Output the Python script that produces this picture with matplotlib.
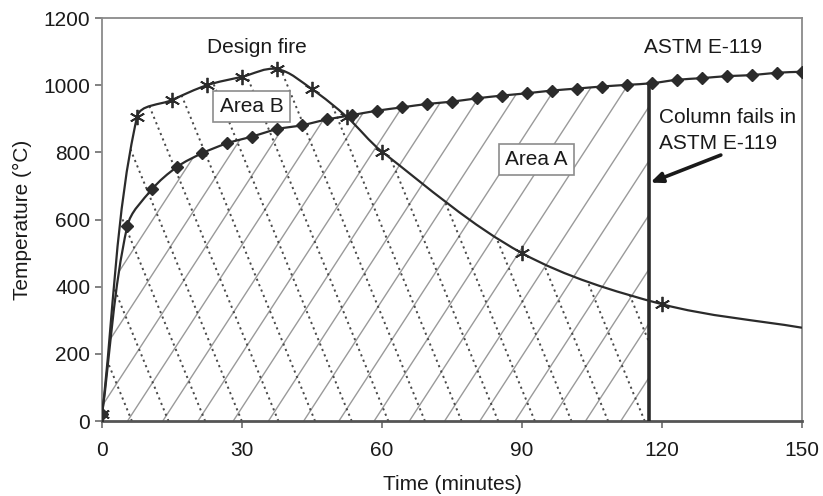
import numpy as np
import matplotlib
matplotlib.use("Agg")
import matplotlib.pyplot as plt
from matplotlib.path import Path
from matplotlib.patches import PathPatch
from matplotlib.collections import LineCollection
from matplotlib.transforms import Bbox, TransformedBbox

plt.rcParams['font.family'] = ['Liberation Sans', 'DejaVu Sans']

# ---- data ----
fire_t = [0, 7.5, 15, 22.5, 30, 37.5, 45, 52.5, 60, 90, 120, 150]
fire_T = [20, 906, 956, 1000, 1025, 1048, 988, 905, 802, 500, 348, 278]
fire_marked = [True] * 11 + [False]

astm_t = [0, 5.4, 10.7, 16.1, 21.4, 26.8, 32.1, 37.5, 42.9, 48.2, 53.6, 58.9,
          64.3, 69.6, 75.0, 80.4, 85.7, 91.1, 96.4, 101.8, 107.1, 112.5, 117.9,
          123.2, 128.6, 133.9, 139.3, 144.6, 150.0]
astm_T = [20, 580, 690, 757, 797, 827, 847, 869, 881, 898, 911, 924,
          934, 944, 951, 961, 969, 976, 984, 990, 996, 1001, 1006,
          1016, 1021, 1027, 1030, 1037, 1040]

fail_t = 117.3
fail_T = 1006

x_ticks = [0, 30, 60, 90, 120, 150]
y_ticks = [0, 200, 400, 600, 800, 1000, 1200]

DARK = '#2b2b2b'
TXT = '#1a1a1a'
# approximate screen scale (px per data unit) used only for smoothing shape
SX, SY = 700 / 150.0, 403 / 1200.0


def smooth_verts(xs, ys):
    """Smoothed line: cubic Bezier, tangent along neighbours, handle = chord/3."""
    P = np.column_stack([np.asarray(xs, float) * SX, np.asarray(ys, float) * SY])
    n = len(P)
    tang = []
    for i in range(n):
        a = P[i - 1] if i > 0 else P[i]
        b = P[i + 1] if i < n - 1 else P[i]
        d = b - a
        tang.append(d / np.hypot(*d))
    verts = [P[0]]
    codes = [Path.MOVETO]
    for i in range(n - 1):
        L = np.hypot(*(P[i + 1] - P[i])) / 3.0
        c1 = P[i] + tang[i] * L
        c2 = P[i + 1] - tang[i + 1] * L
        verts += [c1, c2, P[i + 1]]
        codes += [Path.CURVE4] * 3
    verts = [np.array([v[0] / SX, v[1] / SY]) for v in verts]
    return verts, codes


def curve_path(xs, ys):
    v, c = smooth_verts(xs, ys)
    return Path(v, c)


def area_path(xs, ys):
    v, c = smooth_verts(xs, ys)
    v = [np.array([xs[0], 0.0])] + v + [np.array([xs[-1], 0.0]), np.array([xs[0], 0.0])]
    c = [Path.MOVETO] + [Path.LINETO] + c[1:] + [Path.LINETO, Path.CLOSEPOLY]
    return Path(v, c)


fig = plt.figure(figsize=(8.23, 4.96), dpi=100)
ax = fig.add_axes([0.124, 0.151, 0.8505, 0.8127])
ax.set_xlim(0, 150)
ax.set_ylim(0, 1200)

clip_box = TransformedBbox(Bbox([[0, 0], [fail_t, 1200]]), ax.transData)

# hatch: ASTM area (solid "/")
segs = []
for x0 in np.arange(-80, 125, 7.55) + 2.4:
    segs.append([(x0, 0), (x0 + 0.0468 * 1300, 1300)])
lc1 = LineCollection(segs, colors='#9a9a9a', linewidths=1.0, zorder=1)
ax.add_collection(lc1)
lc1.set_clip_path(area_path(astm_t, astm_T), ax.transData)
lc1.set_clip_box(clip_box)

# hatch: design-fire area (dotted "\")
segs = []
for x0 in np.arange(0, 200, 7.85) + 6.4:
    segs.append([(x0, 0), (x0 - 0.0295 * 1300, 1300)])
lc2 = LineCollection(segs, colors='#4a4a4a', linewidths=1.4,
                     linestyles=[(0, (1.1, 1.9))], zorder=1)
ax.add_collection(lc2)
lc2.set_clip_path(area_path(fire_t, fire_T), ax.transData)
lc2.set_clip_box(clip_box)

# curves
ax.add_patch(PathPatch(curve_path(astm_t, astm_T), fill=False, edgecolor=DARK, lw=1.6, zorder=3))
ax.add_patch(PathPatch(curve_path(fire_t, fire_T), fill=False, edgecolor=DARK, lw=1.6, zorder=3))

ax.plot(astm_t, astm_T, ls='none', marker='D', ms=6.5, color=DARK, zorder=4)
ft = [t for t, m in zip(fire_t, fire_marked) if m]
fT = [T for T, m in zip(fire_T, fire_marked) if m]
ax.plot(ft, fT, ls='none', marker=(6, 2, 0), ms=11, mew=1.3, color=DARK, zorder=4)

# failure line
ax.vlines(fail_t, 0, fail_T, color=DARK, lw=2.6, zorder=5)

# texts
fs = 15
ax.text(33.2, 1097, 'Design fire', ha='center', va='baseline', fontsize=fs, color=TXT)
ax.text(128.7, 1095, 'ASTM E-119', ha='center', va='baseline', fontsize=fs, color=TXT)
box = dict(boxstyle='square,pad=0.3', fc='white', ec='#8c8c8c', lw=1.2)
ax.text(32.0, 936, 'Area B', ha='center', va='center', fontsize=fs, color=TXT, bbox=box, zorder=6)
ax.text(93.1, 779, 'Area A', ha='center', va='center', fontsize=fs, color=TXT, bbox=box, zorder=6)
ax.text(119.4, 886, 'Column fails in', ha='left', va='baseline', fontsize=fs, color=TXT, zorder=6)
ax.text(119.4, 809, 'ASTM E-119', ha='left', va='baseline', fontsize=fs, color=TXT, zorder=6)
ax.annotate('', xy=(117.5, 710), xytext=(132.6, 792),
            arrowprops=dict(arrowstyle='-|>,head_length=0.7,head_width=0.3',
                            color=TXT, lw=2.6, shrinkA=0, shrinkB=0), zorder=6)

# axes styling
ax.set_xticks(x_ticks)
ax.set_yticks(y_ticks)
ax.tick_params(axis='both', labelsize=fs, colors=TXT, length=5, width=1.3, direction='out')
ax.tick_params(axis='both', color='#777777')
ax.tick_params(axis='x', pad=9)
for name, sp in ax.spines.items():
    sp.set_color('#8a8a8a')
    sp.set_linewidth(1.3)
ax.spines['bottom'].set_color('#555555')
ax.spines['bottom'].set_linewidth(2.0)
ax.set_xlabel('Time (minutes)', fontsize=fs, color=TXT, labelpad=11)
ax.set_ylabel('Temperature (°C)', fontsize=fs, color=TXT, labelpad=8)

fig.savefig('out.png', dpi=100, facecolor='white')
